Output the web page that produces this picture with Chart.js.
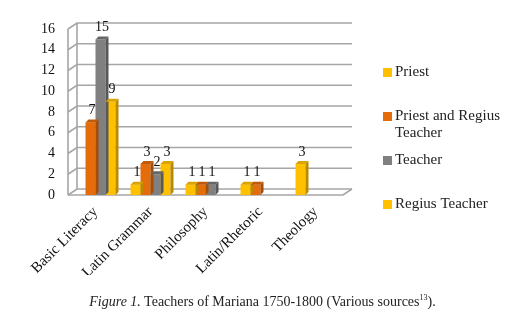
<!DOCTYPE html>
<html>
<head>
<meta charset="utf-8">
<script src="https://cdn.jsdelivr.net/npm/chart.js@4.4.1/dist/chart.umd.min.js"></script>
<style>
body{margin:0;background:#fff;}
#wrap{position:relative;width:525px;height:331px;}
#caption{position:absolute;left:0;width:525px;top:293px;text-align:center;font-family:"Liberation Serif",serif;font-size:14px;color:#222;}
#caption sup{font-size:8px;}
</style>
</head>
<body>
<div id="wrap">
<canvas id="mycanvas" width="525" height="331"></canvas>
<div id="caption"><i>Figure 1.</i> Teachers of Mariana 1750-1800 (Various sources<sup>13</sup>).</div>
</div>
<script>
var categories = ["Basic Literacy", "Latin Grammar", "Philosophy", "Latin/Rhetoric", "Theology"];
var priest = [null, 1, 1, 1, 3];
var priestRegius = [7, 3, 1, 1, null];
var teacher = [15, 2, 1, null, null];
var regius = [9, 3, null, null, null];
var seriesNames = ["Priest", "Priest and Regius Teacher", "Teacher", "Regius Teacher"];
var legendLines = [["Priest"], ["Priest and Regius", "Teacher"], ["Teacher"], ["Regius Teacher"]];
var yMax = 16, yStep = 2;

var serif = '"Liberation Serif", serif';
var depthX = 9, depthY = -6;   // depth of the walls
var barDX = 3, barDY = -3;     // depth of each bar
var legendY = [72, 116, 160, 204];

// back wall, left wall and floor
var walls = {
	id: 'walls',
	beforeDatasetsDraw: function(chart){
		var ctx = chart.ctx, a = chart.chartArea, y = chart.scales.y;
		ctx.save();
		ctx.strokeStyle = '#a6a6a6';
		ctx.lineWidth = 1.6;
		y.ticks.forEach(function(t){
			var py = y.getPixelForValue(t.value);
			ctx.beginPath();
			ctx.moveTo(a.left, py);
			ctx.lineTo(a.left + depthX, py + depthY);
			ctx.lineTo(a.right + depthX, py + depthY);
			ctx.stroke();
		});
		ctx.beginPath();
		ctx.moveTo(a.left, a.bottom);
		ctx.lineTo(a.right, a.bottom);
		ctx.lineTo(a.right + depthX, a.bottom + depthY);
		ctx.moveTo(a.left, a.bottom);
		ctx.lineTo(a.left, a.top);
		ctx.moveTo(a.left + depthX, a.bottom + depthY);
		ctx.lineTo(a.left + depthX, a.top + depthY);
		ctx.stroke();
		ctx.restore();
	}
};

// side + top faces of the bars and the value labels
var faces = {
	id: 'faces',
	afterDatasetsDraw: function(chart){
		var ctx = chart.ctx;
		ctx.save();
		chart.data.datasets.forEach(function(ds, i){
			var meta = chart.getDatasetMeta(i);
			meta.data.forEach(function(bar, j){
				var v = ds.data[j];
				if (v == null) return;
				var p = bar.getProps(['x', 'y', 'base', 'width'], true);
				var l = p.x - p.width / 2, r = p.x + p.width / 2;
				ctx.fillStyle = ds.sideColor;
				ctx.beginPath();
				ctx.moveTo(r, p.base);
				ctx.lineTo(r + barDX, p.base + barDY);
				ctx.lineTo(r + barDX, p.y + barDY);
				ctx.lineTo(r, p.y);
				ctx.closePath();
				ctx.fill();
				ctx.fillStyle = ds.topColor;
				ctx.beginPath();
				ctx.moveTo(l, p.y);
				ctx.lineTo(l + barDX, p.y + barDY);
				ctx.lineTo(r + barDX, p.y + barDY);
				ctx.lineTo(r, p.y);
				ctx.closePath();
				ctx.fill();
				ctx.fillStyle = '#111';
				ctx.font = '14px ' + serif;
				ctx.textAlign = 'center';
				ctx.textBaseline = 'bottom';
				ctx.fillText(v, p.x + barDX / 2, p.y + barDY - 2);
			});
		});
		ctx.restore();
	}
};

// legend on the right
var sideLegend = {
	id: 'sideLegend',
	afterDraw: function(chart){
		var ctx = chart.ctx;
		ctx.save();
		ctx.font = '15px ' + serif;
		ctx.textAlign = 'left';
		ctx.textBaseline = 'middle';
		chart.data.datasets.forEach(function(ds, i){
			var cy = legendY[i];
			ctx.fillStyle = ds.backgroundColor;
			ctx.fillRect(383, cy - 4, 9, 9);
			ctx.fillStyle = '#222';
			legendLines[i].forEach(function(line, k){
				ctx.fillText(line, 395, cy + k * 17);
			});
		});
		ctx.restore();
	}
};

var chartdata = {
	labels: categories,
	datasets: [
		{ label: seriesNames[0], data: priest, backgroundColor: '#ffc000', sideColor: '#b88a00', topColor: '#d9a300' },
		{ label: seriesNames[1], data: priestRegius, backgroundColor: '#e46c0a', sideColor: '#a34d06', topColor: '#c05a08' },
		{ label: seriesNames[2], data: teacher, backgroundColor: '#808080', sideColor: '#585858', topColor: '#666666' },
		{ label: seriesNames[3], data: regius, backgroundColor: '#ffc000', sideColor: '#b88a00', topColor: '#d9a300' }
	]
};

var ctx = document.getElementById('mycanvas');
var BarGraph = new Chart(ctx, {
	type: 'bar',
	data: chartdata,
	plugins: [walls, faces, sideLegend],
	options: {
		responsive: false,
		animation: false,
		layout: { padding: { left: 0, top: 29, right: 182, bottom: 56 } },
		datasets: { bar: { categoryPercentage: 0.727, barPercentage: 1 } },
		plugins: { legend: { display: false }, tooltip: { enabled: false } },
		scales: {
			x: {
				grid: { display: false, drawTicks: false },
				border: { display: false },
				ticks: { minRotation: 45, maxRotation: 45, padding: 8, color: '#111', font: { family: serif, size: 15 } },
				afterFit: function(s){ s.height = 80; }
			},
			y: {
				min: 0, max: yMax,
				grid: { display: false, drawTicks: false },
				border: { display: false },
				ticks: { stepSize: yStep, padding: 13, color: '#111', font: { family: serif, size: 14 } },
				afterFit: function(s){ s.width = 68; }
			}
		}
	}
});
</script>
</body>
</html>
